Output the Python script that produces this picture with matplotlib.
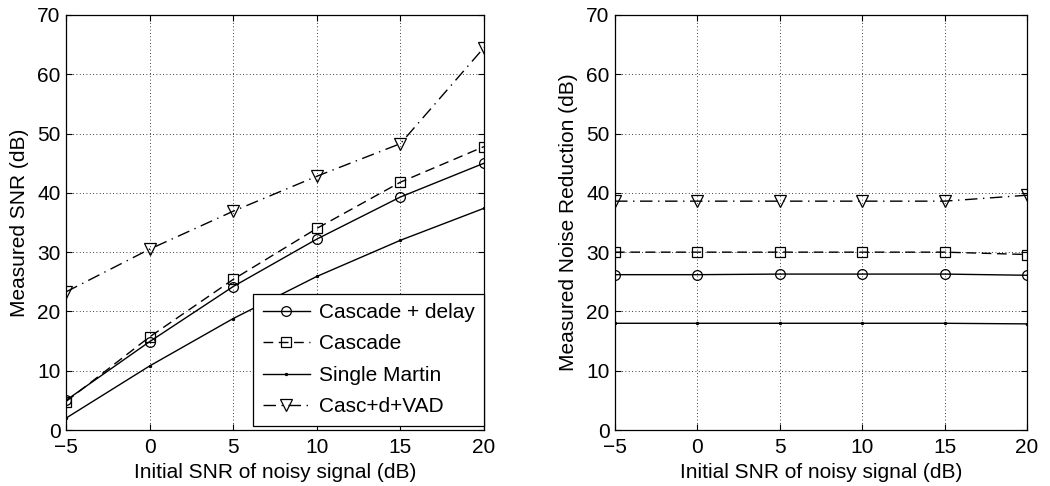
import matplotlib
matplotlib.use("Agg")
import matplotlib.pyplot as plt

plt.rcParams['font.family'] = ['Liberation Sans', 'DejaVu Sans']

snr_in = [-5, 0, 5, 10, 15, 20]

# Output SNR (dB)
snr_cascade_delay = [5.0, 14.9, 24.2, 32.2, 39.3, 45.0]
snr_cascade = [4.8, 15.7, 25.4, 34.0, 41.8, 47.8]
snr_single = [2.0, 10.8, 18.8, 25.9, 32.0, 37.4]
snr_vad = [23.3, 30.5, 36.9, 42.8, 48.3, 64.5]

# Noise reduction (dB)
nr_cascade_delay = [26.2, 26.2, 26.3, 26.3, 26.3, 26.1]
nr_cascade = [30.0, 30.0, 30.0, 30.0, 30.0, 29.6]
nr_single = [18.0, 18.0, 18.0, 18.0, 18.0, 17.9]
nr_vad = [38.6, 38.6, 38.6, 38.6, 38.6, 39.6]

labels = ['Cascade + delay', 'Cascade', 'Single Martin', 'Casc+d+VAD']
x_ticks = [-5, 0, 5, 10, 15, 20]
y_ticks = [0, 10, 20, 30, 40, 50, 60, 70]

FS = 15

fig = plt.figure(figsize=(10.5, 4.86), dpi=100)
ax1 = fig.add_axes([66 / 1050, 1 - 430 / 486, 418 / 1050, 415 / 486])
ax2 = fig.add_axes([615 / 1050, 1 - 430 / 486, 412 / 1050, 415 / 486])

styles = [
    dict(ls='-', marker='o', ms=7, mfc='none'),
    dict(ls='--', marker='s', ms=6.5, mfc='none', dashes=(7, 4)),
    dict(ls='-', marker='.', ms=3),
    dict(ls='-.', marker='v', ms=8.5, mfc='none', dashes=(9, 4, 1, 4)),
]


def draw(ax, series, ylabel):
    for vals, lab, st in zip(series, labels, styles):
        ax.plot(snr_in, vals, color='black', lw=1.0, mec='black', mew=0.9,
                label=lab, **st)
    ax.set_xlim(-5, 20)
    ax.set_ylim(0, 70)
    ax.set_xticks(x_ticks)
    ax.set_xticklabels(['\u22125' if t == -5 else str(t) for t in x_ticks])
    ax.set_yticks(y_ticks)
    ax.grid(True, color='black', ls=(0, (1, 3)), lw=0.6)
    ax.tick_params(direction='in', top=True, right=True, length=4,
                   labelsize=FS, width=0.8)
    ax.tick_params(axis='x', pad=6)
    ax.tick_params(axis='y', pad=4)
    for s in ax.spines.values():
        s.set_linewidth(0.9)
    ax.set_xlabel('Initial SNR of noisy signal (dB)', fontsize=FS, labelpad=4)
    ax.set_ylabel(ylabel, fontsize=FS, labelpad=6)


draw(ax1, [snr_cascade_delay, snr_cascade, snr_single, snr_vad], 'Measured SNR (dB)')
draw(ax2, [nr_cascade_delay, nr_cascade, nr_single, nr_vad], 'Measured Noise Reduction (dB)')

leg = ax1.legend(loc='lower right', bbox_to_anchor=(1.0, 0.01), fontsize=FS,
                 fancybox=False, edgecolor='black', framealpha=1,
                 handlelength=2.3, handletextpad=0.4, borderaxespad=0,
                 labelspacing=0.6, borderpad=0.45)
leg.get_frame().set_linewidth(0.9)

fig.savefig('out.png', dpi=100)
